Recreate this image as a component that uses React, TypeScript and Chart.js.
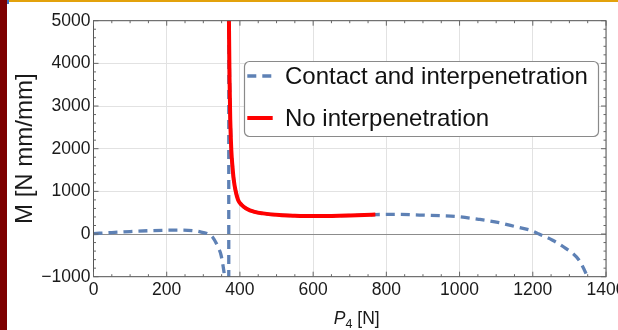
import React, { useEffect, useRef } from "react";
import { Chart, registerables } from "chart.js";

Chart.register(...registerables);

// ---- data ----
const xTicks = [0, 200, 400, 600, 800, 1000, 1200, 1400];
const yTicks = [-1000, 0, 1000, 2000, 3000, 4000, 5000];

const contactLabel = "Contact and interpenetration";
const noInterpLabel = "No interpenetration";

// blue dashed, left branch (goes to -inf near the pole)
const contactLeftP4 = [0, 50, 100, 150, 200, 240, 270, 290, 310, 326, 340, 348, 354, 358, 361, 363];
const contactLeftM = [10, 35, 58, 78, 90, 92, 80, 54, 10, -80, -300, -480, -750, -1000, -1300, -1700];

// blue dashed, jump through the pole
const contactJumpP4 = [363, 369.5, 369.5];
const contactJumpM = [-1700, -1700, 6000];

// blue dashed, right branch
const contactRightP4 = [369.5, 371, 373, 376, 380, 383, 388, 395, 405, 417, 440, 463, 508, 550, 600, 650, 700, 740, 770, 800, 835, 890, 950, 997, 1053, 1108, 1153, 1197, 1217, 1253, 1290, 1326, 1349, 1365];
const contactRightM = [6000, 4200, 3000, 2050, 1550, 1280, 1020, 800, 680, 600, 520, 484, 445, 430, 422, 425, 435, 445, 455, 460, 461, 445, 428, 406, 344, 266, 172, 78, 0, -141, -336, -609, -1000, -1400];

// red solid
const noInterpP4 = [370, 371.5, 373.5, 376.5, 380, 383, 388, 395, 405, 417, 440, 463, 508, 550, 600, 650, 700, 740, 770];
const noInterpM = [5000, 3700, 2700, 1960, 1550, 1280, 1020, 800, 680, 600, 520, 484, 445, 430, 422, 425, 435, 445, 455];

const BLUE = "#5E81B5";
const RED = "#FF0000";
const FONT = '"Liberation Sans", Arial, sans-serif';

const pts = (xs: number[], ys: number[]) => xs.map((x, i) => ({ x, y: ys[i] }));

const framePlugin = {
  id: "mmaFrame",
  afterDraw(chart: any) {
    const { ctx, chartArea } = chart;
    const sx = chart.scales.x;
    const sy = chart.scales.y;
    const { left, right, top, bottom } = chartArea;
    ctx.save();
    // frame
    ctx.strokeStyle = "#555";
    ctx.lineWidth = 1;
    ctx.strokeRect(left, top, right - left, bottom - top);
    // inward ticks
    ctx.strokeStyle = "#666";
    ctx.beginPath();
    for (let v = sx.min; v <= sx.max; v += 50) {
      const p = sx.getPixelForValue(v);
      const len = v % 200 === 0 ? 5 : 2.5;
      ctx.moveTo(p, bottom);
      ctx.lineTo(p, bottom - len);
      ctx.moveTo(p, top);
      ctx.lineTo(p, top + len);
    }
    for (let v = sy.min; v <= sy.max; v += 200) {
      const p = sy.getPixelForValue(v);
      const len = v % 1000 === 0 ? 5 : 2.5;
      ctx.moveTo(left, p);
      ctx.lineTo(left + len, p);
      ctx.moveTo(right, p);
      ctx.lineTo(right - len, p);
    }
    ctx.stroke();

    // y title
    ctx.fillStyle = "#1a1a1a";
    ctx.font = `24px ${FONT}`;
    ctx.textAlign = "center";
    ctx.textBaseline = "alphabetic";
    ctx.save();
    ctx.translate(23.7, (top + bottom) / 2);
    ctx.rotate(-Math.PI / 2);
    ctx.fillText("M [N mm/mm]", 0, 0);
    ctx.restore();

    // x title: italic P, subscript 4, [N]
    const base = 322;
    ctx.textAlign = "left";
    const fMain = `17.5px ${FONT}`;
    const fIt = `italic 17.5px ${FONT}`;
    const fSub = `12.5px ${FONT}`;
    ctx.font = fIt;
    const wP = ctx.measureText("P").width;
    ctx.font = fSub;
    const w4 = ctx.measureText("4").width;
    ctx.font = fMain;
    const wN = ctx.measureText(" [N]").width;
    const total = wP + w4 + wN;
    let x0 = (left + right) / 2 + 7 - total / 2;
    ctx.font = fIt;
    ctx.fillText("P", x0, base);
    x0 += wP;
    ctx.font = fSub;
    ctx.fillText("4", x0, base + 4);
    x0 += w4;
    ctx.font = fMain;
    ctx.fillText(" [N]", x0, base);

    // legend
    const bx = 236, by = 59, bw = 354, bh = 75;
    ctx.beginPath();
    (ctx as any).roundRect(bx + 0.5, by + 0.5, bw, bh, 5);
    ctx.fillStyle = "#fff";
    ctx.fill();
    ctx.strokeStyle = "#8a8a8a";
    ctx.lineWidth = 1.2;
    ctx.stroke();
    const entries = [
      { label: chart.data.datasets[1].label, color: BLUE, dash: [9, 6], w: 3.3, y: by + 15 },
      { label: chart.data.datasets[0].label, color: RED, dash: [], w: 4, y: by + 57 },
    ];
    ctx.font = `24px ${FONT}`;
    ctx.textBaseline = "middle";
    ctx.textAlign = "left";
    for (const e of entries) {
      ctx.beginPath();
      ctx.setLineDash(e.dash);
      ctx.strokeStyle = e.color;
      ctx.lineWidth = e.w;
      ctx.moveTo(bx + 3.3, e.y);
      ctx.lineTo(bx + 28.7, e.y);
      ctx.stroke();
      ctx.setLineDash([]);
      ctx.fillStyle = "#111";
      ctx.fillText(e.label, bx + 41, e.y + 1);
    }
    ctx.restore();
  },
};

export default function App() {
  const ref = useRef<HTMLCanvasElement | null>(null);
  useEffect(() => {
    document.body.style.margin = "0";
    const canvas = ref.current!;
    const blueCommon = {
      borderColor: BLUE,
      borderWidth: 3.3,
      borderDash: [9, 6],
      pointRadius: 0,
      fill: false,
      cubicInterpolationMode: "monotone" as const,
      order: 1,
    };
    const chart = new Chart(canvas, {
      type: "line",
      data: {
        datasets: [
          {
            label: noInterpLabel,
            data: pts(noInterpP4, noInterpM),
            borderColor: RED,
            borderWidth: 4,
            pointRadius: 0,
            fill: false,
            cubicInterpolationMode: "monotone",
            order: 0,
          },
          { ...blueCommon, label: contactLabel, data: pts(contactLeftP4, contactLeftM) },
          { ...blueCommon, label: contactLabel, data: pts(contactJumpP4, contactJumpM), cubicInterpolationMode: "default", tension: 0 },
          { ...blueCommon, label: contactLabel, data: pts(contactRightP4, contactRightM) },
        ],
      },
      options: {
        animation: false,
        responsive: false,
        devicePixelRatio: 1,
        layout: { padding: { top: 18.7, right: 12, left: 0, bottom: 0 } },
        plugins: { legend: { display: false }, tooltip: { enabled: false } },
        scales: {
          x: {
            type: "linear",
            min: 0,
            max: 1400,
            afterBuildTicks: (s: any) => {
              s.ticks = xTicks.map((v) => ({ value: v }));
            },
            afterFit: (s: any) => {
              s.height = 53.3;
              s.paddingLeft = 0;
              s.paddingRight = 0;
            },
            ticks: {
              font: { family: FONT, size: 17.5 },
              color: "#1a1a1a",
              padding: 3,
              maxRotation: 0,
              autoSkip: false,
              callback: (v: any) => String(v),
            },
            grid: { color: "#e2e2e2", lineWidth: 1, drawTicks: false },
            border: { display: false },
          },
          y: {
            type: "linear",
            min: -1000,
            max: 5000,
            afterBuildTicks: (s: any) => {
              s.ticks = yTicks.map((v) => ({ value: v }));
            },
            afterFit: (s: any) => {
              s.width = 85.5;
              s.paddingTop = 0;
              s.paddingBottom = 0;
            },
            ticks: {
              font: { family: FONT, size: 17.5 },
              color: "#1a1a1a",
              padding: 3,
              autoSkip: false,
              callback: (v: any) => String(v).replace("-", "\u2212"),
            },
            grid: {
              color: (c: any) => (c.tick && c.tick.value === 0 ? "#8c8c8c" : "#e2e2e2"),
              lineWidth: 1,
              drawTicks: false,
            },
            border: { display: false },
          },
        },
      },
      plugins: [framePlugin],
    });
    return () => chart.destroy();
  }, []);

  return (
    <div style={{ position: "fixed", left: 0, top: 0, width: 618, height: 330, background: "#fff", overflow: "hidden" }}>
      <div style={{ position: "absolute", left: 0, top: 0, width: 7, height: 330, background: "#7d0000" }} />
      <div style={{ position: "absolute", left: 7, top: 0, width: 611, height: 2, background: "#e3a20c" }} />
      <div style={{ position: "absolute", left: 7, top: 0, width: 1.5, height: 4, background: "#3a6fc0" }} />
      <canvas
        ref={ref}
        width={610}
        height={328}
        style={{ position: "absolute", left: 8, top: 2, width: 610, height: 328 }}
      />
    </div>
  );
}
